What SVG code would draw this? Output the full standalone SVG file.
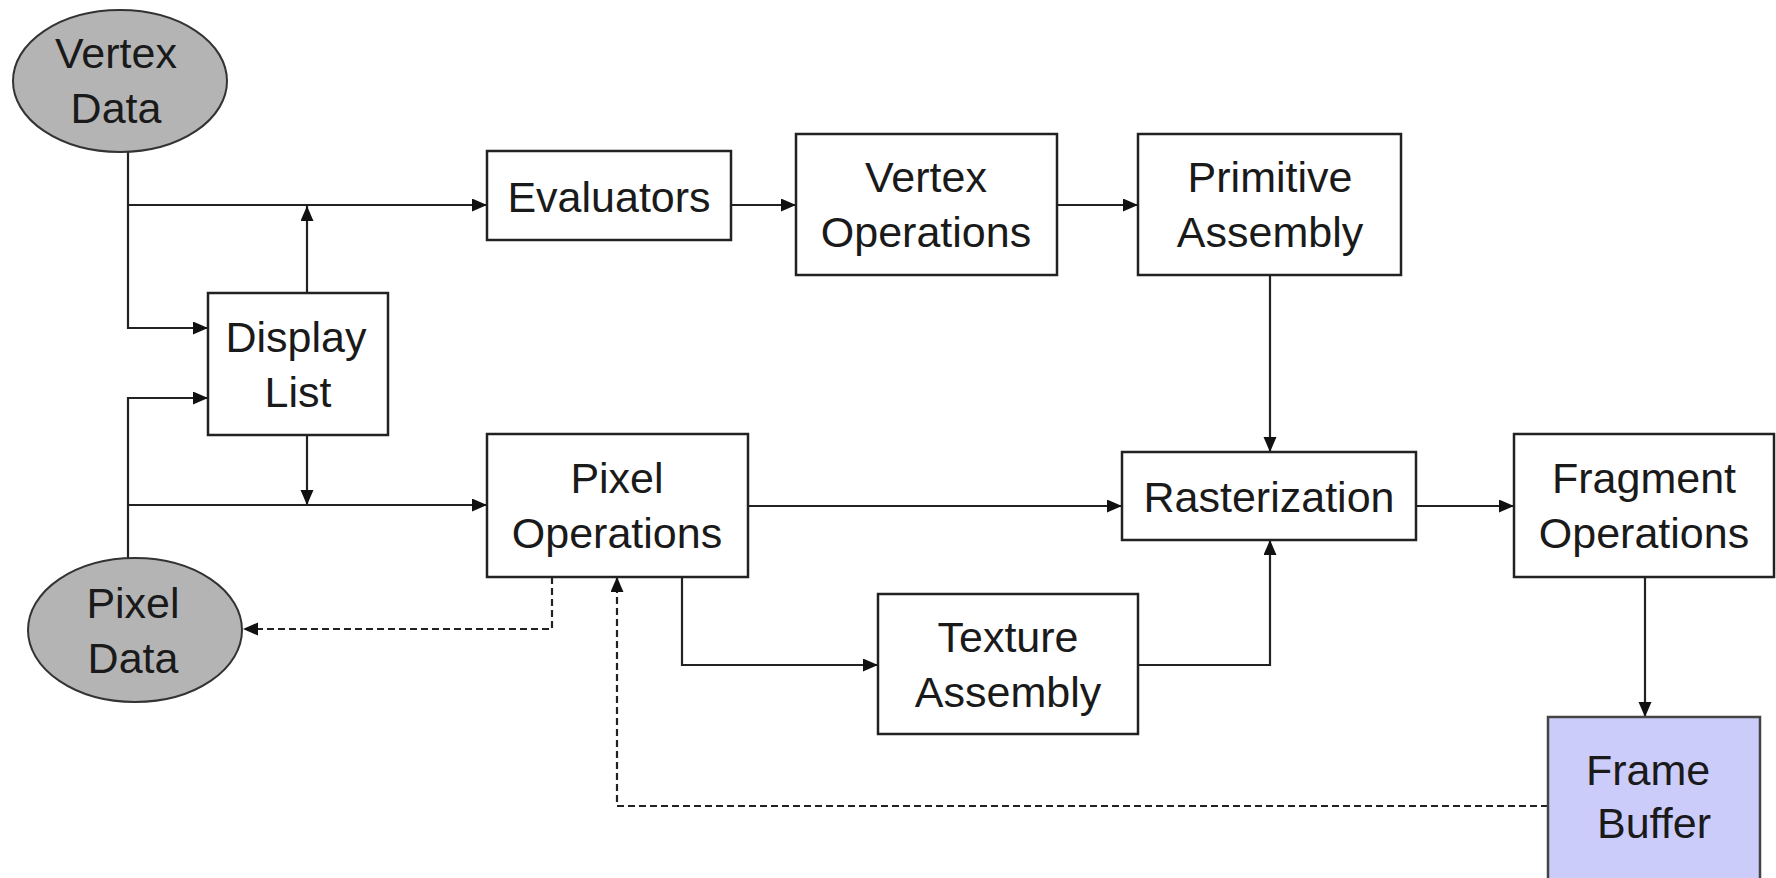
<svg xmlns="http://www.w3.org/2000/svg" width="1776" height="878" viewBox="0 0 1776 878">
<defs>
<marker id="arr" markerUnits="userSpaceOnUse" markerWidth="16" markerHeight="14" refX="15" refY="6.5" orient="auto">
<path d="M0,0 L15,6.5 L0,13 z" fill="#111"/>
</marker>
<style>
.box{fill:#fff;stroke:#222;stroke-width:2.5}
.ell{fill:#b4b4b4;stroke:#333;stroke-width:2}
.fb{fill:#ccccfa;stroke:#444;stroke-width:2.5}
.t{font-family:"Liberation Sans",Arial,sans-serif;font-size:43px;fill:#1a1a1a;text-anchor:middle}
.c{fill:none;stroke:#222;stroke-width:2.2}
.d{fill:none;stroke:#222;stroke-width:2.2;stroke-dasharray:7 4}
</style>
</defs>
<rect width="1776" height="878" fill="#fff"/>
<g id="connectors">
<path class="c" d="M128,152 V328 H208" marker-end="url(#arr)"/>
<path class="c" d="M128,205 H487" marker-end="url(#arr)"/>
<path class="c" d="M307,293 V206" marker-end="url(#arr)"/>
<path class="c" d="M307,435 V505" marker-end="url(#arr)"/>
<path class="c" d="M128,558 V398 H208" marker-end="url(#arr)"/>
<path class="c" d="M128,505 H487" marker-end="url(#arr)"/>
<path class="c" d="M731,205 H796" marker-end="url(#arr)"/>
<path class="c" d="M1057,205 H1138" marker-end="url(#arr)"/>
<path class="c" d="M1270,275 V452" marker-end="url(#arr)"/>
<path class="c" d="M748,506 H1122" marker-end="url(#arr)"/>
<path class="c" d="M1416,506 H1514" marker-end="url(#arr)"/>
<path class="c" d="M1645,577 V717" marker-end="url(#arr)"/>
<path class="c" d="M682,577 V665 H878" marker-end="url(#arr)"/>
<path class="c" d="M1138,665 H1270 V540" marker-end="url(#arr)"/>
<path class="d" d="M552,577 V629 H243" marker-end="url(#arr)"/>
<path class="d" d="M1548,806 H617 V577" marker-end="url(#arr)"/>
</g>
<g id="vertex-data">
<ellipse class="ell" cx="120" cy="81" rx="107" ry="71"/>
<text class="t" x="116" y="68">Vertex</text>
<text class="t" x="116" y="123">Data</text>
</g>
<g id="display-list">
<rect class="box" x="208" y="293" width="180" height="142"/>
<text class="t" x="296" y="352">Display</text>
<text class="t" x="298" y="407">List</text>
</g>
<g id="evaluators">
<rect class="box" x="487" y="151" width="244" height="89"/>
<text class="t" x="609" y="212">Evaluators</text>
</g>
<g id="vertex-operations">
<rect class="box" x="796" y="134" width="261" height="141"/>
<text class="t" x="926" y="192">Vertex</text>
<text class="t" x="926" y="247">Operations</text>
</g>
<g id="primitive-assembly">
<rect class="box" x="1138" y="134" width="263" height="141"/>
<text class="t" x="1270" y="192">Primitive</text>
<text class="t" x="1270" y="247">Assembly</text>
</g>
<g id="pixel-operations">
<rect class="box" x="487" y="434" width="261" height="143"/>
<text class="t" x="617" y="493">Pixel</text>
<text class="t" x="617" y="548">Operations</text>
</g>
<g id="rasterization">
<rect class="box" x="1122" y="452" width="294" height="88"/>
<text class="t" x="1269" y="512">Rasterization</text>
</g>
<g id="fragment-operations">
<rect class="box" x="1514" y="434" width="260" height="143"/>
<text class="t" x="1644" y="493">Fragment</text>
<text class="t" x="1644" y="548">Operations</text>
</g>
<g id="texture-assembly">
<rect class="box" x="878" y="594" width="260" height="140"/>
<text class="t" x="1008" y="652">Texture</text>
<text class="t" x="1008" y="707">Assembly</text>
</g>
<g id="pixel-data">
<ellipse class="ell" cx="135" cy="630" rx="107" ry="72"/>
<text class="t" x="133" y="618">Pixel</text>
<text class="t" x="133" y="673">Data</text>
</g>
<g id="frame-buffer">
<rect class="fb" x="1548" y="717" width="212" height="180"/>
<text class="t" x="1648" y="785">Frame</text>
<text class="t" x="1654" y="838">Buffer</text>
</g>
</svg>
